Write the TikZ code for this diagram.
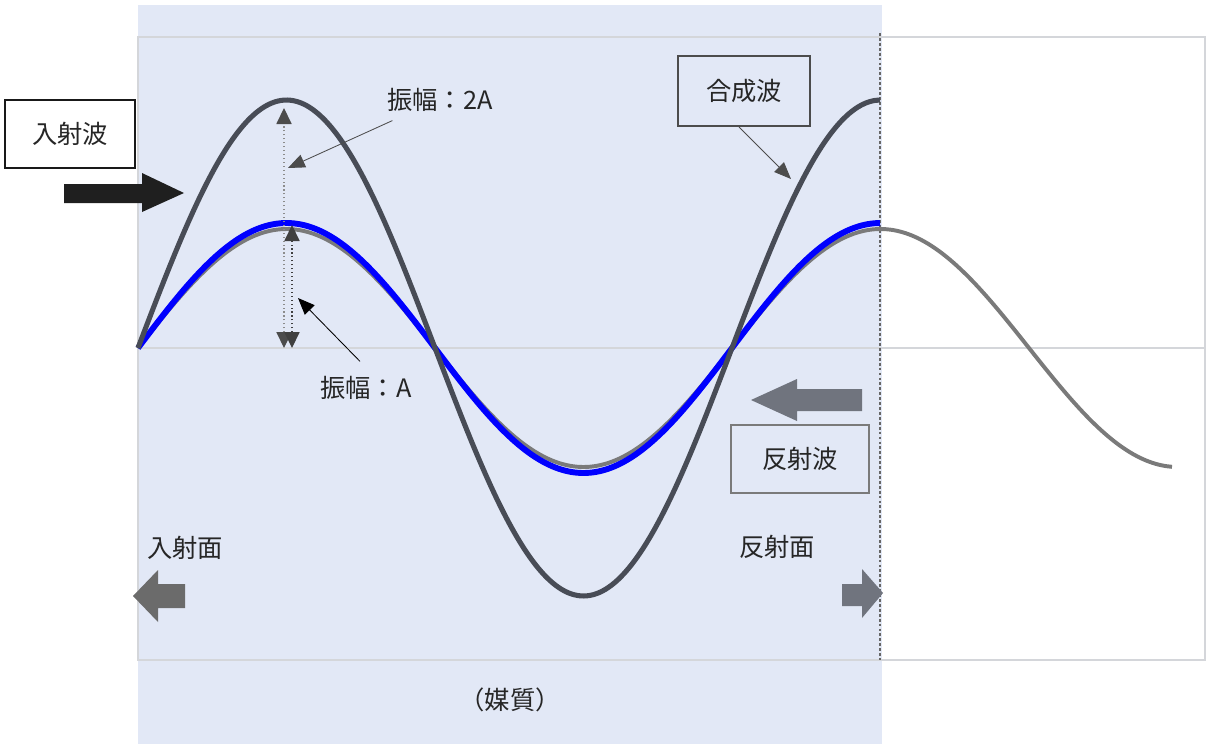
\documentclass[tikz,border=0pt]{standalone}
\usepackage{fontspec}
\usepackage{xcolor}
\usepackage{tikz}
\usetikzlibrary{arrows.meta}
\newfontfamily\jpfont{Noto Sans CJK JP}
\definecolor{mediumfill}{RGB}{226,232,246}
\definecolor{framegray}{RGB}{212,214,218}
\definecolor{synthgray}{RGB}{72,76,86}
\definecolor{reflgray}{RGB}{122,122,122}
\definecolor{blockgray}{RGB}{112,116,126}
\tikzset{
  lbl/.style={font=\jpfont\fontsize{18pt}{20pt}\selectfont,text=black!85},
  labelbox/.style={lbl,draw,line width=1.4pt,minimum width=3.25cm,minimum height=1.7cm},
  callout/.style={draw=black!70,line width=.6pt,-{Triangle[length=.42cm,width=.34cm]}},
  ampline/.style={dotted,line width=.8pt,{Triangle[length=.4cm,width=.38cm]}-{Triangle[length=.4cm,width=.38cm]}}
}
\begin{document}
\begin{tikzpicture}[x=0.025cm,y=-0.025cm]
  \useasboundingbox (0,0) rectangle (1206,744);
  % medium and plot frame
  \fill[mediumfill] (138,5) rectangle (882,744);
  \draw[framegray,line width=1.2pt] (138,37) rectangle (1205,660);
  \draw[framegray,line width=1.2pt] (138,348) -- (1205,348);
  \draw[black!60,line width=.8pt,dash pattern=on 2pt off 1.5pt] (880,33) -- (880,660);

  % waves (wavelength 594 px, 360/594 = 0.60606)
  \draw[reflgray,line width=2.8pt] plot[domain=138:1172,samples=160,smooth] (\x,{348-119*sin(0.60606*(\x-138))});
  \draw[blue,line width=4.2pt] plot[domain=138:880,samples=120,smooth] (\x,{348-125*sin(0.60606*(\x-138))});
  \draw[synthgray,line width=3.6pt] plot[domain=138:880,samples=120,smooth] (\x,{348-248*sin(0.60606*(\x-138))});

  % block arrows
  \fill[black!88] (64,184) -- (142,184) -- (142,173) -- (184,193) -- (142,212) -- (142,203) -- (64,203) -- cycle;
  \fill[blockgray] (862,389) -- (797,389) -- (797,379) -- (751,400) -- (797,421) -- (797,411) -- (862,411) -- cycle;
  \fill[black!58] (185,584) -- (158,584) -- (158,570) -- (133,596) -- (158,622) -- (158,608) -- (185,608) -- cycle;
  \fill[blockgray] (842,584) -- (862,584) -- (862,569) -- (883,593) -- (862,618) -- (862,606) -- (842,606) -- cycle;

  % boxes and labels
  \node[labelbox,draw=black!90,fill=white] (incident) at (70,134) {入射波};
  \node[labelbox,draw=black!70,minimum width=3.3cm,minimum height=1.75cm] (synth) at (744,91) {合成波};
  \node[labelbox,draw=reflgray,minimum width=3.43cm] (reflected) at (800,459) {反射波};
  \node[lbl] (amp2A) at (440,100) {振幅：2A};
  \node[lbl] (ampA) at (366,388) {振幅：A};
  \node[lbl] (inface) at (185,548) {入射面};
  \node[lbl] (refface) at (777,547) {反射面};
  \node[lbl] (medium) at (510,700) {（媒質）};

  % amplitude markers
  \coordinate (top2A) at (284,108);
  \coordinate (base2A) at (284,348);
  \coordinate (topA) at (292,225);
  \coordinate (baseA) at (292,348);
  \draw[ampline,black!45,{Triangle[length=.4cm,width=.38cm,black!70]}-{Triangle[length=.4cm,width=.38cm,black!70]}] (base2A) -- (top2A);
  \draw[ampline,black!75] (baseA) -- (topA);

  % callouts
  \coordinate (hit2A) at (288,168);
  \coordinate (hitA) at (298,298);
  \coordinate (hitsynth) at (791,179);
  \draw[callout] ([shift={(10,4)}]amp2A.south west) -- (hit2A);
  \draw[callout,draw=black] ([shift={(-6,-10)}]ampA.north) -- (hitA);
  \draw[callout] ([shift={(-5,0)}]synth.south) -- (hitsynth);
\end{tikzpicture}
\end{document}
